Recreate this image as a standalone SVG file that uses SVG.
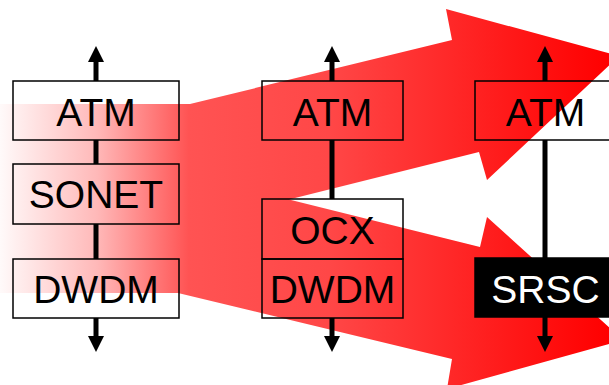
<svg xmlns="http://www.w3.org/2000/svg" width="609" height="385" viewBox="0 0 609 385">
  <defs>
    <linearGradient id="redfade" gradientUnits="userSpaceOnUse" x1="0" y1="0" x2="609" y2="0">
      <stop offset="0" stop-color="#fffafa"/>
      <stop offset="0.16" stop-color="#ffb8b8"/>
      <stop offset="0.31" stop-color="#ff5353"/>
      <stop offset="0.54" stop-color="#ff4747"/>
      <stop offset="0.83" stop-color="#ff1a1a"/>
      <stop offset="1" stop-color="#ff0000"/>
    </linearGradient>
    <marker id="head" viewBox="0 0 16 16" markerWidth="16" markerHeight="16" markerUnits="userSpaceOnUse" refX="6" refY="8" orient="auto">
      <path d="M0,0 L16,8 L0,16 z" fill="#000"/>
    </marker>
    <style>
      .box { fill: none; stroke: #000; stroke-width: 1.5; }
      .dark { fill: #000; stroke: #000; stroke-width: 1.5; }
      .lbl { font-family: "Liberation Sans", Arial, sans-serif; font-size: 39px; text-anchor: middle; fill: #000; }
      .lblw { fill: #fff; }
      .wire { stroke: #000; stroke-width: 5; fill: none; }
      .end { marker-end: url(#head); }
    </style>
  </defs>

  <g id="flow-arrows">
    <path fill="url(#redfade)" d="M0,104 L190,104 L452,40 L446,9 L619,56 L487,180 L479,152 L289,199.5 L480,247 L487,217 L623,340 L447,389 L452,359 L178,293 L0,293 Z"/>
  </g>

  <g id="connectors">
    <line class="wire end" x1="96" y1="81" x2="96" y2="56"/>
    <line class="wire" x1="96" y1="140" x2="96" y2="164"/>
    <line class="wire" x1="96" y1="224" x2="96" y2="259"/>
    <line class="wire end" x1="96" y1="318" x2="96" y2="342"/>

    <line class="wire end" x1="332" y1="81" x2="332" y2="56"/>
    <line class="wire" x1="332" y1="140" x2="332" y2="199"/>
    <line class="wire end" x1="332" y1="318" x2="332" y2="342"/>

    <line class="wire end" x1="545" y1="81" x2="545" y2="56"/>
    <line class="wire" x1="545" y1="140" x2="545" y2="258"/>
    <line class="wire end" x1="545" y1="317" x2="545" y2="342"/>
  </g>

  <g id="atm-1">
    <rect class="box" x="13" y="81" width="166" height="59"/>
    <text class="lbl" x="96" y="125.5">ATM</text>
  </g>
  <g id="sonet-1">
    <rect class="box" x="13" y="164" width="166" height="60"/>
    <text class="lbl" x="96" y="208">SONET</text>
  </g>
  <g id="dwdm-1">
    <rect class="box" x="13" y="259" width="166" height="59"/>
    <text class="lbl" x="96" y="303">DWDM</text>
  </g>

  <g id="atm-2">
    <rect class="box" x="262" y="81" width="141" height="59"/>
    <text class="lbl" x="332.5" y="125.5">ATM</text>
  </g>
  <g id="ocx-2">
    <rect class="box" x="262" y="199" width="141" height="60"/>
    <text class="lbl" x="332.5" y="244">OCX</text>
  </g>
  <g id="dwdm-2">
    <rect class="box" x="262" y="259" width="141" height="59"/>
    <text class="lbl" x="332.5" y="303">DWDM</text>
  </g>

  <g id="atm-3">
    <rect class="box" x="475" y="81" width="141" height="59"/>
    <text class="lbl" x="545.5" y="125.5">ATM</text>
  </g>
  <g id="srsc-3">
    <rect class="dark" x="475" y="258" width="141" height="59"/>
    <text class="lbl lblw" x="545.5" y="302.5">SRSC</text>
  </g>
</svg>
